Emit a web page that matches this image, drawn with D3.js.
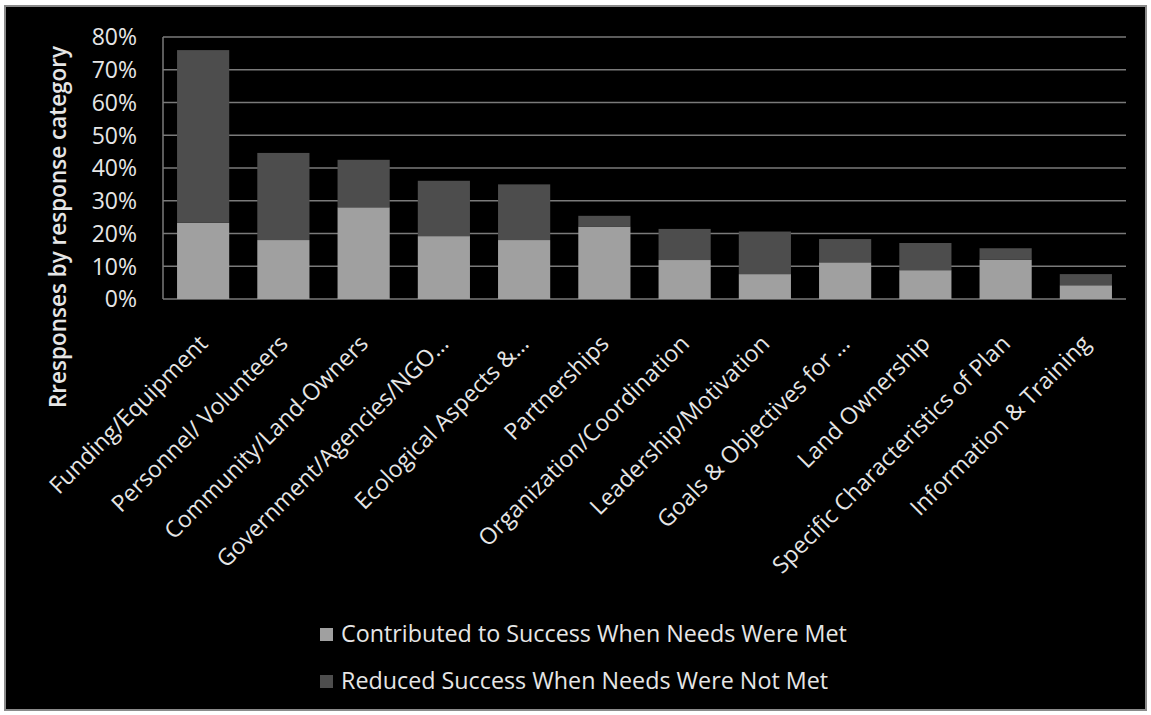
<!DOCTYPE html>
<html>
<head>
<meta charset="utf-8">
<script src="https://cdn.jsdelivr.net/npm/d3@7"></script>
<style>
  body { margin: 0; background: #fff; }
  text { font-family: "Open Sans", Lato, sans-serif; fill: #e6e6e6; }
</style>
</head>
<body>
<div id="chart"></div>
<script>
// categories along the x axis
var categories = ['Funding/Equipment', 'Personnel/ Volunteers', 'Community/Land-Owners',
    'Government/Agencies/NGO…', 'Ecological Aspects &…', 'Partnerships',
    'Organization/Coordination', 'Leadership/Motivation', 'Goals & Objectives for …',
    'Land Ownership', 'Specific Characteristics of Plan', 'Information & Training'];
// percent values
var metValues = [23.3, 18.0, 28.0, 19.2, 18.0, 22.1, 11.9, 7.6, 11.2, 8.8, 12.0, 4.2];
var notMetValues = [52.7, 26.6, 14.5, 16.9, 17.0, 3.3, 9.5, 13.0, 7.1, 8.3, 3.5, 3.4];
var seriesNames = ['Contributed to Success When Needs Were Met', 'Reduced Success When Needs Were Not Met'];
var yTicks = [0, 10, 20, 30, 40, 50, 60, 70, 80];

(function() {
    var width = 1151, height = 715;
    var colors = ['#a0a0a0', '#4d4d4d'];
    var plotLeft = 163, plotRight = 1126, plotTop = 37, plotBottom = 299;

    var svg = d3.select('#chart').append('svg')
        .attr('width', width)
        .attr('height', height);

    // 黑色背景和边框
    svg.append('rect')
        .attr('x', 5).attr('y', 6)
        .attr('width', 1141).attr('height', 704)
        .attr('fill', '#000')
        .attr('stroke', '#8a8a8a')
        .attr('stroke-width', 2);

    var x = d3.scaleBand()
        .domain(categories)
        .range([plotLeft, plotRight])
        .paddingInner(0.35)
        .paddingOuter(0.175);

    var y = d3.scaleLinear()
        .domain([0, 80])
        .range([plotBottom, plotTop]);

    // 网格线
    svg.append('g')
        .selectAll('line')
        .data(yTicks)
        .enter()
        .append('line')
        .attr('x1', plotLeft)
        .attr('x2', plotRight)
        .attr('y1', function(d) { return y(d); })
        .attr('y2', function(d) { return y(d); })
        .attr('stroke', '#7a7a7a')
        .attr('stroke-width', 1.5);

    svg.append('line')
        .attr('x1', plotLeft).attr('x2', plotLeft)
        .attr('y1', plotTop).attr('y2', plotBottom)
        .attr('stroke', '#7a7a7a')
        .attr('stroke-width', 1.5);

    // y 轴刻度文字
    svg.append('g')
        .selectAll('text')
        .data(yTicks)
        .enter()
        .append('text')
        .attr('x', 137)
        .attr('y', function(d) { return y(d); })
        .attr('dy', '0.36em')
        .attr('text-anchor', 'end')
        .style('font-size', '23px')
        .text(function(d) { return d + '%'; });

    // 堆叠柱子
    var rows = categories.map(function(c, i) {
        return { cat: c, met: metValues[i], notMet: notMetValues[i] };
    });
    var stack = d3.stack().keys(['met', 'notMet'])(rows);

    svg.append('g')
        .selectAll('g')
        .data(stack)
        .enter()
        .append('g')
        .attr('fill', function(d, i) { return colors[i]; })
        .selectAll('rect')
        .data(function(d) { return d; })
        .enter()
        .append('rect')
        .attr('x', function(d) { return x(d.data.cat); })
        .attr('width', x.bandwidth())
        .attr('y', function(d) { return y(d[1]); })
        .attr('height', function(d) { return y(d[0]) - y(d[1]); });

    // x 轴标签，旋转 45 度
    svg.append('g')
        .selectAll('text')
        .data(categories)
        .enter()
        .append('text')
        .attr('transform', function(d) {
            var cx = x(d) + x.bandwidth() / 2;
            return 'translate(' + (cx + 6) + ',' + 345 + ') rotate(-45)';
        })
        .attr('text-anchor', 'end')
        .style('font-size', '23px')
        .text(function(d) { return d; });

    // y 轴标题
    svg.append('text')
        .attr('transform', 'translate(66,' + 227 + ') rotate(-90)')
        .attr('text-anchor', 'middle')
        .style('font-size', '22.5px')
        .style('font-weight', '600')
        .text('Rresponses by response category');

    // 图例
    var legend = svg.append('g');
    seriesNames.forEach(function(name, i) {
        var ly = 634 + i * 47;
        legend.append('rect')
            .attr('x', 320).attr('y', ly - 6)
            .attr('width', 13).attr('height', 13)
            .attr('fill', colors[i]);
        legend.append('text')
            .attr('x', 341).attr('y', ly)
            .attr('dy', '0.36em')
            .style('font-size', '23.3px')
            .text(name);
    });
})();
</script>
</body>
</html>
